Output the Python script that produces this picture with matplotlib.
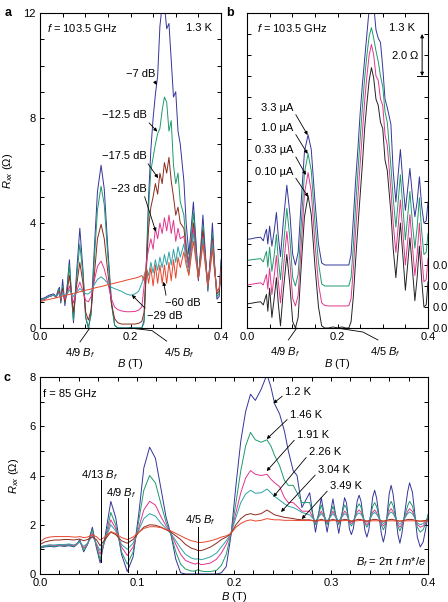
import numpy as np
import matplotlib
matplotlib.use('Agg')
import matplotlib.pyplot as plt
from matplotlib.ticker import MultipleLocator, FormatStrFormatter, FuncFormatter

plt.rcParams['font.family'] = ['Liberation Sans', 'DejaVu Sans']
plt.rcParams['mathtext.fontset'] = 'custom'
plt.rcParams['mathtext.rm'] = 'Liberation Sans'
plt.rcParams['mathtext.it'] = 'Liberation Sans:italic'
plt.rcParams['font.size'] = 8

# ---------------- panel a: power dependence, f = 103.5 GHz ----------------
B_a = [0.000, 0.010, 0.020, 0.030, 0.036, 0.040, 0.043, 0.046, 0.050, 0.055,
       0.060, 0.065, 0.069, 0.074, 0.080, 0.088, 0.095, 0.101, 0.107, 0.113,
       0.120, 0.127, 0.135, 0.142, 0.150, 0.158, 0.165, 0.172, 0.180, 0.190,
       0.200, 0.210, 0.218, 0.225, 0.230, 0.235, 0.240, 0.245, 0.250, 0.255,
       0.260, 0.265, 0.270, 0.275, 0.280, 0.285, 0.290, 0.295, 0.300, 0.305,
       0.310, 0.318, 0.323, 0.329, 0.334, 0.339, 0.345, 0.350, 0.355, 0.360,
       0.366, 0.371, 0.376, 0.381, 0.386, 0.391, 0.396, 0.400]

a_7dB = [1.10, 1.15, 1.25, 1.30, 1.20, 1.45, 1.55, 0.95, 1.85, 0.85,
         1.60, 2.60, 1.40, 0.20, 1.90, 3.80, 2.20, 0.40, 0.00, 0.60,
         3.00, 5.20, 6.20, 5.30, 3.00, 1.00, 0.10, 0.00, 0.00, 0.00,
         0.00, 0.00, 0.00, 0.00, 0.30, 2.50, 5.00, 6.80, 8.00, 8.90,
         9.60, 11.50, 12.30, 12.30, 11.40, 11.60, 10.20, 8.80, 9.00, 7.50,
         7.00, 5.60, 4.00, 2.80, 3.80, 4.80, 3.20, 1.80, 3.00, 4.30,
         2.70, 1.40, 2.60, 4.00, 2.40, 1.10, 1.20, 2.60]
a_12dB = [1.05, 1.10, 1.20, 1.25, 1.15, 1.40, 1.45, 1.00, 1.60, 0.95,
          1.50, 2.40, 1.40, 0.30, 1.70, 3.20, 2.00, 0.40, 0.00, 0.50,
          2.60, 4.50, 5.40, 4.70, 2.70, 0.90, 0.10, 0.00, 0.00, 0.00,
          0.00, 0.00, 0.00, 0.00, 0.20, 2.20, 4.60, 6.00, 6.50, 7.00,
          7.40, 7.60, 8.30, 8.80, 8.60, 7.50, 7.90, 6.20, 5.50, 5.90,
          4.80, 4.30, 3.20, 2.50, 3.50, 4.40, 3.00, 1.90, 2.90, 3.90,
          2.60, 1.50, 2.50, 3.60, 2.30, 1.20, 1.30, 2.40]
a_17dB = [1.05, 1.10, 1.20, 1.25, 1.20, 1.35, 1.40, 1.05, 1.50, 1.00,
          1.40, 2.00, 1.40, 0.60, 1.50, 2.50, 1.70, 0.60, 0.30, 0.70,
          2.00, 3.40, 3.95, 3.40, 2.10, 0.90, 0.35, 0.20, 0.15, 0.15,
          0.15, 0.15, 0.18, 0.25, 0.60, 2.20, 3.80, 4.60, 5.00, 5.50,
          5.10, 5.90, 5.50, 6.30, 5.90, 6.50, 5.60, 5.00, 4.30, 4.60,
          4.00, 3.80, 3.00, 2.30, 3.20, 4.00, 2.90, 1.90, 2.80, 3.70,
          2.60, 1.60, 2.50, 3.40, 2.30, 1.30, 1.40, 2.30]
a_23dB = [1.05, 1.10, 1.20, 1.25, 1.20, 1.30, 1.35, 1.10, 1.40, 1.10,
          1.30, 1.60, 1.30, 0.95, 1.35, 1.75, 1.40, 1.05, 1.00, 1.20,
          1.80, 2.35, 2.55, 2.25, 1.70, 1.10, 0.80, 0.70, 0.65, 0.62,
          0.62, 0.63, 0.68, 0.80, 1.60, 2.50, 3.00, 3.40, 3.00, 3.80,
          3.40, 4.00, 3.60, 4.20, 3.70, 4.30, 3.60, 4.10, 3.30, 3.80,
          3.40, 3.50, 2.80, 2.30, 3.10, 3.80, 2.80, 1.90, 2.70, 3.50,
          2.50, 1.60, 2.40, 3.30, 2.20, 1.40, 1.50, 2.20]
a_29dB = [1.05, 1.12, 1.20, 1.25, 1.22, 1.30, 1.30, 1.15, 1.35, 1.20,
          1.30, 1.45, 1.35, 1.20, 1.35, 1.50, 1.40, 1.30, 1.30, 1.40,
          1.65, 1.85, 1.95, 1.85, 1.70, 1.55, 1.50, 1.45, 1.40, 1.30,
          1.25, 1.30, 1.40, 1.70, 2.00, 2.30, 2.00, 2.50, 2.10, 2.60,
          2.20, 2.70, 2.30, 2.80, 2.40, 2.90, 2.40, 3.00, 2.50, 3.10,
          2.70, 3.20, 2.60, 2.10, 2.90, 3.60, 2.70, 1.90, 2.60, 3.40,
          2.40, 1.60, 2.30, 3.20, 2.20, 1.40, 1.50, 2.10]
a_60dB = [1.00, 1.05, 1.09, 1.13, 1.15, 1.17, 1.19, 1.18, 1.22, 1.24,
          1.26, 1.28, 1.30, 1.32, 1.34, 1.38, 1.41, 1.44, 1.46, 1.49,
          1.52, 1.55, 1.58, 1.61, 1.65, 1.68, 1.71, 1.74, 1.77, 1.82,
          1.86, 1.90, 1.94, 2.00, 1.80, 2.30, 1.70, 2.30, 1.60, 2.40,
          1.70, 2.40, 1.70, 2.40, 1.70, 2.50, 1.80, 2.60, 1.90, 2.70,
          2.30, 2.90, 2.40, 2.00, 2.70, 3.30, 2.50, 1.90, 2.50, 3.20,
          2.30, 1.60, 2.20, 3.00, 2.10, 1.40, 1.50, 2.00]

# ---------------- panel b: current dependence (offset 1 ohm each) ----------
b_010 = [1.15, 1.18, 1.22, 1.25, 1.10, 1.40, 1.60, 0.80, 1.90, 0.50,
         1.40, 2.40, 1.20, 0.10, 1.70, 3.50, 2.00, 0.30, 0.00, 0.50,
         3.00, 5.30, 6.30, 5.40, 3.00, 1.00, 0.10, 0.00, 0.00, 0.05,
         0.00, 0.05, 0.00, 0.00, 0.30, 1.50, 3.20, 4.80, 6.30, 7.80,
         9.50, 10.70, 11.80, 12.40, 11.90, 10.90, 10.60, 9.80, 9.50, 8.00,
         7.50, 5.50, 3.80, 2.40, 3.70, 5.00, 3.30, 1.80, 3.00, 4.30,
         2.70, 1.30, 2.40, 3.90, 2.30, 1.00, 1.10, 2.20]
b_033 = [1.05, 1.08, 1.12, 1.15, 1.05, 1.35, 1.55, 0.85, 1.85, 0.60,
         1.45, 2.45, 1.25, 0.20, 1.75, 3.60, 2.10, 0.40, 0.05, 0.55,
         3.00, 5.40, 6.40, 5.50, 3.10, 1.10, 0.20, 0.07, 0.05, 0.05,
         0.05, 0.05, 0.05, 0.06, 0.40, 1.80, 3.60, 5.20, 6.80, 8.30,
         9.80, 11.00, 12.00, 12.50, 12.00, 11.00, 10.80, 9.90, 9.60, 8.20,
         7.70, 5.60, 4.00, 2.60, 3.80, 5.10, 3.40, 2.00, 3.10, 4.40,
         2.80, 1.50, 2.50, 4.00, 2.40, 1.20, 1.30, 2.30]
b_10 = [1.22, 1.25, 1.28, 1.30, 1.15, 1.45, 1.65, 0.90, 1.85, 0.70,
        1.45, 2.45, 1.30, 0.30, 1.80, 3.70, 2.20, 0.40, 0.00, 0.55,
        3.00, 5.40, 6.30, 5.50, 3.10, 1.10, 0.10, 0.00, 0.00, 0.00,
        0.00, 0.00, 0.00, 0.00, 0.40, 1.90, 3.80, 5.40, 7.00, 8.50,
        9.90, 11.00, 11.90, 12.30, 11.80, 11.20, 10.70, 10.00, 9.50, 8.30,
        7.80, 5.70, 4.20, 2.80, 4.00, 5.30, 3.60, 2.20, 3.30, 4.50,
        2.90, 1.80, 2.80, 4.20, 2.60, 1.50, 1.60, 2.50]
b_33 = [1.22, 1.25, 1.30, 1.32, 1.15, 1.50, 1.70, 1.00, 1.85, 0.90,
        1.60, 2.50, 1.40, 0.40, 2.00, 3.80, 2.40, 0.50, 0.00, 0.60,
        3.10, 5.40, 6.20, 5.50, 3.10, 1.00, 0.10, 0.00, 0.00, 0.00,
        0.00, 0.00, 0.00, 0.00, 0.50, 2.20, 4.00, 5.50, 7.20, 8.60,
        9.80, 11.00, 12.20, 12.50, 12.40, 11.20, 10.80, 10.60, 9.40, 7.90,
        7.50, 6.70, 4.50, 3.00, 4.30, 5.50, 3.80, 2.60, 3.60, 4.60,
        3.20, 2.30, 3.00, 4.20, 2.80, 2.00, 2.10, 3.00]
b_offsets = [0, 1, 2, 3]

# ---------------- panel c: temperature dependence, f = 85 GHz --------------
B_c = [0.000, 0.005, 0.010, 0.015, 0.020, 0.025, 0.030, 0.035, 0.038, 0.041,
       0.045, 0.049, 0.054, 0.058, 0.062, 0.067, 0.073, 0.078, 0.084, 0.090,
       0.096, 0.102, 0.107, 0.113, 0.119, 0.125, 0.130, 0.135, 0.140, 0.145,
       0.150, 0.156, 0.160, 0.163, 0.166, 0.170, 0.176, 0.182, 0.187, 0.192,
       0.197, 0.202, 0.207, 0.212, 0.217, 0.222, 0.228, 0.234, 0.238, 0.242,
       0.247, 0.252, 0.256, 0.261, 0.265, 0.270, 0.278, 0.284, 0.290, 0.296,
       0.302, 0.308,
       0.314, 0.316, 0.319, 0.321, 0.323, 0.327, 0.329, 0.331, 0.335, 0.337,
       0.339, 0.343, 0.345, 0.347, 0.352, 0.354, 0.356, 0.360, 0.362, 0.364,
       0.369, 0.371, 0.373, 0.379, 0.381, 0.384, 0.389, 0.392, 0.395, 0.398,
       0.400]

c_120 = [1.05, 1.10, 1.12, 1.10, 1.15, 1.12, 1.15, 1.10, 1.20, 1.40,
         0.90, 1.20, 1.90, 1.10, 0.45, 1.50, 2.95, 2.30, 0.80, 0.10,
         0.70, 2.50, 4.30, 5.15, 4.70, 3.40, 2.30, 1.60, 0.60, 0.05,
         0.00, 0.00, 0.00, 0.00, 0.00, 0.00, 0.00, 0.00, 0.05, 0.30,
         1.60, 3.60, 5.40, 6.60, 7.30, 7.05, 7.50, 8.10, 7.60, 6.90,
         6.50, 5.80, 5.00, 4.20, 4.00, 2.70, 3.30, 1.70, 3.10, 1.70,
         3.05, 1.65,
         3.10, 2.88, 1.83, 1.60, 1.84, 2.96, 3.20, 2.95, 1.76, 1.50,
         1.79, 3.12, 3.40, 3.09, 1.62, 1.30, 1.65, 3.26, 3.60, 3.25,
         1.60, 1.25, 1.62, 3.33, 3.70, 3.31, 1.49, 1.10, 1.30, 1.90,
         2.40]
c_146 = [1.05, 1.12, 1.15, 1.12, 1.15, 1.15, 1.18, 1.12, 1.20, 1.35,
         0.95, 1.20, 1.80, 1.15, 0.60, 1.40, 2.50, 2.00, 0.90, 0.40,
         0.90, 2.20, 3.40, 4.00, 3.70, 2.80, 2.10, 1.60, 0.90, 0.40,
         0.20, 0.12, 0.12, 0.18, 0.12, 0.10, 0.10, 0.15, 0.35, 0.80,
         1.65, 2.90, 4.20, 5.20, 5.75, 5.45, 5.35, 5.45, 5.20, 4.80,
         4.40, 3.80, 3.60, 3.60, 3.30, 2.90, 2.90, 2.00, 2.80, 2.00,
         2.75, 2.00,
         2.80, 2.67, 2.08, 1.95, 2.09, 2.71, 2.85, 2.71, 2.04, 1.90,
         2.05, 2.75, 2.90, 2.74, 1.97, 1.80, 1.97, 2.78, 2.95, 2.77,
         1.93, 1.75, 1.93, 2.77, 2.95, 2.76, 1.89, 1.70, 1.80, 2.10,
         2.40]
c_191 = [1.10, 1.15, 1.18, 1.15, 1.18, 1.18, 1.20, 1.15, 1.22, 1.30,
         1.05, 1.22, 1.65, 1.20, 0.80, 1.35, 2.20, 1.85, 1.10, 0.75,
         1.10, 1.90, 2.60, 2.95, 2.80, 2.30, 1.95, 1.65, 1.20, 0.80,
         0.55, 0.45, 0.40, 0.45, 0.38, 0.40, 0.45, 0.60, 0.85, 1.20,
         1.65, 2.50, 3.30, 3.90, 4.20, 4.05, 4.00, 4.05, 3.85, 3.70,
         3.55, 3.10, 2.90, 2.90, 2.75, 2.55, 2.55, 2.10, 2.55, 2.10,
         2.55, 2.10,
         2.55, 2.48, 2.13, 2.05, 2.13, 2.52, 2.60, 2.51, 2.09, 2.00,
         2.09, 2.51, 2.60, 2.50, 2.05, 1.95, 2.06, 2.55, 2.65, 2.54,
         2.01, 1.90, 2.01, 2.54, 2.65, 2.54, 2.01, 1.90, 1.95, 2.12,
         2.30]
c_226 = [1.10, 1.15, 1.18, 1.18, 1.20, 1.20, 1.22, 1.18, 1.24, 1.30,
         1.12, 1.25, 1.55, 1.25, 0.95, 1.35, 2.00, 1.75, 1.20, 1.00,
         1.25, 1.80, 2.25, 2.45, 2.35, 2.05, 1.85, 1.65, 1.35, 1.05,
         0.80, 0.65, 0.60, 0.62, 0.58, 0.62, 0.70, 0.85, 1.10, 1.35,
         1.65, 2.30, 2.90, 3.25, 3.40, 3.28, 3.30, 3.45, 3.30, 3.15,
         3.00, 2.85, 2.75, 2.70, 2.62, 2.50, 2.40, 2.15, 2.45, 2.15,
         2.45, 2.15,
         2.45, 2.40, 2.17, 2.12, 2.17, 2.43, 2.48, 2.42, 2.16, 2.10,
         2.16, 2.44, 2.50, 2.43, 2.12, 2.05, 2.12, 2.45, 2.52, 2.45,
         2.10, 2.02, 2.10, 2.45, 2.52, 2.44, 2.08, 2.00, 2.05, 2.17,
         2.30]
c_304 = [1.20, 1.30, 1.35, 1.38, 1.38, 1.40, 1.40, 1.38, 1.40, 1.42,
         1.35, 1.40, 1.50, 1.40, 1.15, 1.40, 1.70, 1.60, 1.35, 1.25,
         1.40, 1.70, 1.90, 2.00, 1.98, 1.90, 1.80, 1.70, 1.55, 1.40,
         1.20, 1.05, 1.00, 0.95, 0.95, 1.00, 1.10, 1.25, 1.40, 1.50,
         1.65, 2.00, 2.25, 2.40, 2.45, 2.40, 2.45, 2.60, 2.50, 2.40,
         2.35, 2.30, 2.28, 2.25, 2.22, 2.20, 2.20, 2.15, 2.22, 2.15,
         2.22, 2.15,
         2.22, 2.21, 2.16, 2.15, 2.16, 2.21, 2.22, 2.21, 2.16, 2.15,
         2.16, 2.21, 2.22, 2.21, 2.16, 2.15, 2.16, 2.21, 2.22, 2.21,
         2.16, 2.15, 2.16, 2.21, 2.22, 2.21, 2.16, 2.15, 2.16, 2.18,
         2.20]
c_349 = [1.30, 1.45, 1.50, 1.52, 1.52, 1.52, 1.52, 1.50, 1.50, 1.52,
         1.48, 1.50, 1.58, 1.52, 1.38, 1.50, 1.72, 1.65, 1.48, 1.40,
         1.50, 1.70, 1.85, 1.92, 1.92, 1.88, 1.80, 1.75, 1.65, 1.55,
         1.45, 1.35, 1.32, 1.28, 1.28, 1.30, 1.35, 1.42, 1.50, 1.55,
         1.65, 1.90, 2.05, 2.15, 2.20, 2.15, 2.18, 2.25, 2.22, 2.20,
         2.20, 2.18, 2.18, 2.18, 2.17, 2.17, 2.17, 2.15, 2.17, 2.15,
         2.17, 2.15,
         2.17, 2.17, 2.16, 2.15, 2.15, 2.16, 2.17, 2.17, 2.16, 2.15,
         2.15, 2.16, 2.16, 2.16, 2.15, 2.14, 2.15, 2.16, 2.16, 2.16,
         2.15, 2.14, 2.15, 2.16, 2.16, 2.16, 2.15, 2.14, 2.14, 2.15,
         2.15]

Bf_a = 0.2478   # 2 pi f m*/e at 103.5 GHz
Bf_c = 0.2035   # at 85 GHz

blue = '#34359a'
green = '#1d9a6c'
brown = '#8c2a1c'
pink = '#e2358e'
teal = '#2ea3a8'
red = '#e8452c'
black = '#222222'

arrow = dict(arrowstyle='-|>', color='k', lw=0.6, mutation_scale=5,
             shrinkA=0, shrinkB=0)


def style(ax, xmaj, xmin, ymaj, ymin):
    ax.xaxis.set_major_locator(MultipleLocator(xmaj))
    ax.xaxis.set_minor_locator(MultipleLocator(xmin))
    ax.yaxis.set_major_locator(MultipleLocator(ymaj))
    ax.yaxis.set_minor_locator(MultipleLocator(ymin))
    ax.xaxis.set_major_formatter(FormatStrFormatter('%.1f'))
    ax.tick_params(which='both', direction='in', top=True, right=True,
                   length=3, width=0.7, labelsize=8, pad=3)
    for s in ax.spines.values():
        s.set_linewidth(0.8)


fig = plt.figure(figsize=(4.48, 6.02), dpi=100)
ax_a = fig.add_axes([40/448, 274/602, 181/448, 315/602])
ax_b = fig.add_axes([247/448, 274/602, 181/448, 315/602])
ax_c = fig.add_axes([40/448, 28/602, 388/448, 197/602])

# ----- a -----
for vals, col in [(a_7dB, blue), (a_12dB, green), (a_17dB, brown),
                  (a_23dB, pink), (a_29dB, teal), (a_60dB, red)]:
    ax_a.plot(B_a, vals, color=col, lw=0.7)
ax_a.set_xlim(0, 0.4)
ax_a.set_ylim(0, 12)
style(ax_a, 0.2, 0.05, 4, 1)
ax_a.yaxis.set_major_formatter(FormatStrFormatter('%d'))
ax_a.set_xlabel('$B$ (T)', labelpad=11)
ax_a.set_ylabel('$R_{xx}$ ($\\Omega$)', labelpad=6)
ax_a.text(0.039, 0.952, '$f$ = 103.5 GHz', transform=ax_a.transAxes, va='center')
ax_a.text(0.95, 0.952, '1.3 K', transform=ax_a.transAxes, va='center', ha='right')

a_labels = [('\u22127 dB', (0.254, 9.68), (0.258, 9.26), 'right', (0.9, 0.2)),
            ('\u221212.5 dB', (0.2365, 8.11), (0.259, 7.48), 'right', (0.95, 0.2)),
            ('\u221217.5 dB', (0.2365, 6.55), (0.261, 5.71), 'right', (0.95, 0.2)),
            ('\u221223 dB', (0.2365, 5.30), (0.256, 3.67), 'right', (0.9, 0.1)),
            ('\u221260 dB', (0.276, 0.95), (0.273, 1.76), 'left', (0.05, 0.9)),
            ('\u221229 dB', (0.2365, 0.46), (0.203, 1.26), 'left', (0.05, 0.9))]
for txt, pos, tgt, ha, rp in a_labels:
    ax_a.annotate(txt, xy=tgt, xytext=pos, ha=ha, va='center',
                  arrowprops=dict(arrow, relpos=rp))

# fraction markers below axis a
ax_a.plot([4/9*Bf_a, 0.0884], [0, -0.53], color='k', lw=0.6, clip_on=False)
ax_a.text(0.088, -0.95, '4/9 $B_f$', ha='center', va='center')
ax_a.plot([4/5*Bf_a, 0.2475, 0.280], [0, -0.1, -0.5], color='k', lw=0.6, clip_on=False)
ax_a.text(0.309, -0.95, '4/5 $B_f$', ha='center', va='center')

# ----- b -----
for vals, off, col in [(b_33, b_offsets[3], blue), (b_10, b_offsets[2], green),
                       (b_033, b_offsets[1], pink), (b_010, b_offsets[0], black)]:
    ax_b.plot(B_a, np.array(vals) + off, color=col, lw=0.7)
ax_b.set_xlim(0, 0.4)
ax_b.set_ylim(0, 15)
style(ax_b, 0.2, 0.05, 1, 1)
ax_b.tick_params(labelleft=False, labelright=True)
ax_b.yaxis.set_major_formatter(FuncFormatter(lambda v, p: '0.0' if v < 3.5 else ''))
ax_b.set_xlabel('$B$ (T)', labelpad=11)
ax_b.text(0.055, 0.952, '$f$ = 103.5 GHz', transform=ax_b.transAxes, va='center')
ax_b.text(0.928, 0.952, '1.3 K', transform=ax_b.transAxes, va='center', ha='right')

b_labels = [('3.3 \u00b5A', (0.1017, 10.48), (0.134, 9.19)),
            ('1.0 \u00b5A', (0.1017, 9.52), (0.134, 8.29)),
            ('0.33 \u00b5A', (0.1017, 8.48), (0.130, 7.29)),
            ('0.10 \u00b5A', (0.1017, 7.43), (0.1355, 6.24))]
for txt, pos, tgt in b_labels:
    ax_b.annotate(txt, xy=tgt, xytext=pos, ha='right', va='center',
                  arrowprops=dict(arrow, relpos=(1, 0.3)))

# 2.0 ohm scale bar
ax_b.annotate('', xy=(0.387, 14.0), xytext=(0.387, 12.0),
              arrowprops=dict(arrowstyle='<|-|>', color='k', lw=0.7,
                              mutation_scale=5, shrinkA=0, shrinkB=0))
ax_b.plot([0.376, 0.394], [12.0, 12.0], color='k', lw=0.7)
ax_b.text(0.380, 13.0, '2.0 $\\Omega$', ha='right', va='center')

ax_b.plot([4/9*Bf_a, 0.0913], [0, -0.57], color='k', lw=0.6, clip_on=False)
ax_b.text(0.085, -1.14, '4/9 $B_f$', ha='center', va='center')
ax_b.plot([4/5*Bf_a, 0.256, 0.2895], [0, -0.19, -0.57], color='k', lw=0.6, clip_on=False)
ax_b.text(0.306, -1.14, '4/5 $B_f$', ha='center', va='center')

# ----- c -----
for vals, col in [(c_120, blue), (c_146, green), (c_191, pink),
                  (c_226, teal), (c_304, brown), (c_349, red)]:
    ax_c.plot(B_c, vals, color=col, lw=0.7)
ax_c.set_xlim(0, 0.4)
ax_c.set_ylim(0, 8)
style(ax_c, 0.1, 0.02, 2, 1)
ax_c.yaxis.set_major_formatter(FormatStrFormatter('%d'))
ax_c.set_xlabel('$B$ (T)', labelpad=1)
ax_c.set_ylabel('$R_{xx}$ ($\\Omega$)', labelpad=6)
ax_c.text(0.008, 0.915, 'f = 85 GHz', transform=ax_c.transAxes, va='center')
ax_c.text(0.995, 0.061, '$B_f$ = 2\u03c0 $f$ $m$*/$e$', transform=ax_c.transAxes,
          va='center', ha='right')

marks = [(4/13*Bf_c, 3.82, 0.49, '4/13 $B_f$', 0.0613, 4.02),
         (4/9*Bf_c, 3.09, 0.08, '4/9 $B_f$', 0.0835, 3.29),
         (4/5*Bf_c, 1.91, 0.04, '4/5 $B_f$', 0.165, 2.19)]
for xb, y0, y1, txt, tx, ty in marks:
    ax_c.plot([xb, xb], [y0, y1], color='k', lw=0.7)
    ax_c.text(tx, ty, txt, ha='center', va='center')

c_labels = [('1.2 K', (0.2526, 7.39), (0.2405, 6.93)),
            ('1.46 K', (0.2577, 6.46), (0.2337, 5.48)),
            ('1.91 K', (0.2650, 5.64), (0.2337, 4.18)),
            ('2.26 K', (0.2773, 4.95), (0.2405, 3.13)),
            ('3.04 K', (0.2866, 4.22), (0.2485, 2.52)),
            ('3.49 K', (0.2990, 3.57), (0.2698, 2.23))]
for txt, pos, tgt in c_labels:
    ax_c.annotate(txt, xy=tgt, xytext=pos, ha='left', va='center',
                  arrowprops=dict(arrow, relpos=(0.0, 0.3)))

fig.text(5/448, 1 - 13/602, 'a', weight='bold', fontsize=9, va='center')
fig.text(226/448, 1 - 13/602, 'b', weight='bold', fontsize=9, va='center')
fig.text(4/448, 1 - 378/602, 'c', weight='bold', fontsize=9, va='center')

fig.savefig('out.png', dpi=100)
